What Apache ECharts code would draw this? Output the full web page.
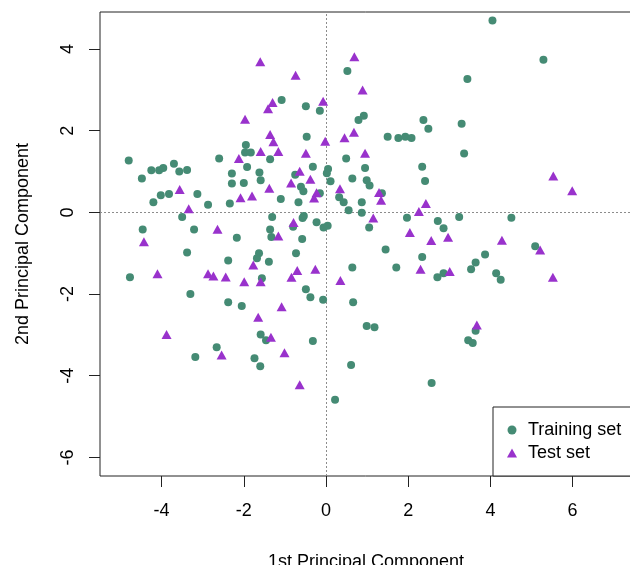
<!DOCTYPE html>
<html>
<head>
<meta charset="utf-8">
<script src="https://cdn.jsdelivr.net/npm/echarts@6/dist/echarts.min.js"></script>
<style>
html,body{margin:0;padding:0;background:#fff;}
#chart{width:630px;height:565px;}
</style>
</head>
<body>
<div id="chart"></div>
<script>
var seriesNames = ['Training set', 'Test set'];
var xTicks = [-4, -2, 0, 2, 4, 6];
var yTicks = [-6, -4, -2, 0, 2, 4];
var axisTitles = ['1st Principal Component', '2nd Principal Component'];

var trainingSet = [
[-4.80,1.27],[-4.48,0.83],[-4.25,1.03],[-4.06,1.03],[-3.96,1.09],[-3.70,1.19],[-3.57,1.00],[-3.38,1.04],
[-4.20,0.25],[-4.02,0.42],[-3.82,0.45],[-3.13,0.45],[-2.87,0.19],[-3.50,-0.11],[-2.60,1.32],[-2.29,0.95],
[-2.29,0.71],[-2.00,0.72],[-1.95,1.65],[-1.97,1.47],[-1.83,1.47],[-1.92,1.11],[-1.62,0.98],[-1.59,0.79],
[-1.36,1.30],[-2.34,0.22],[-1.31,-0.11],[-1.08,2.75],[-0.49,2.60],[-0.15,2.49],[-0.47,1.85],[0.52,3.46],
[0.79,2.26],[0.92,2.37],[-0.32,1.12],[0.05,1.06],[0.02,0.96],[-0.75,0.92],[-0.61,0.63],[-0.55,0.52],
[0.11,0.76],[0.49,1.32],[0.64,0.83],[0.95,1.09],[0.99,0.79],[1.06,0.66],[-0.15,0.47],[0.32,0.37],
[0.43,0.25],[0.55,0.05],[0.87,0.25],[0.87,-0.01],[1.36,0.47],[-1.10,0.33],[-0.67,0.25],[-0.54,-0.09],
[-0.57,-0.14],[-0.23,-0.24],[-0.06,-0.37],[0.04,-0.33],[-0.80,-0.35],[-0.58,-0.65],[-1.36,-0.42],[-1.33,-0.60],
[-2.17,-0.62],[-3.21,-0.42],[-4.46,-0.42],[1.05,-0.37],[1.45,-0.91],[1.50,1.85],[1.76,1.82],[1.93,1.85],
[2.08,1.82],[2.37,2.26],[2.49,2.05],[3.30,2.17],[3.36,1.44],[2.34,1.12],[2.41,0.77],[3.44,3.27],
[4.05,4.70],[5.29,3.74],[1.97,-0.13],[2.72,-0.21],[2.86,-0.39],[3.24,-0.11],[4.51,-0.13],[2.34,-1.09],
[1.71,-1.35],[0.64,-1.35],[2.71,-1.59],[2.86,-1.49],[3.53,-1.39],[3.64,-1.23],[3.87,-1.03],[4.14,-1.49],
[4.25,-1.65],[5.09,-0.83],[0.66,-2.20],[0.99,-2.78],[1.18,-2.81],[3.64,-2.90],[3.46,-3.13],[3.57,-3.20],
[0.61,-3.74],[2.57,-4.18],[0.22,-4.59],[-3.38,-0.98],[-2.38,-1.18],[-1.63,-1.00],[-1.68,-1.12],[-1.39,-1.21],
[-0.73,-1.00],[-4.77,-1.59],[-1.56,-1.61],[-3.30,-2.00],[-2.38,-2.20],[-2.05,-2.29],[-0.49,-1.88],[-0.38,-2.08],
[-0.07,-2.14],[-1.59,-2.99],[-1.46,-3.13],[-0.32,-3.15],[-2.66,-3.30],[-3.18,-3.54],[-1.74,-3.57],[-1.60,-3.77]
];

var testSet = [
[-1.60,3.69],[-0.74,3.36],[0.69,3.81],[0.89,3.00],[-1.30,2.69],[-1.41,2.54],[-0.07,2.72],[-1.97,2.28],
[-1.36,1.91],[-1.28,1.73],[-1.16,1.49],[-1.59,1.49],[-2.12,1.32],[-0.49,1.45],[-0.02,1.74],[0.45,1.83],
[0.68,1.96],[0.95,1.45],[-0.64,1.01],[-0.85,0.72],[-0.38,0.81],[-1.38,0.59],[-2.08,0.36],[-1.80,0.40],
[-3.56,0.56],[-3.34,0.09],[-0.23,0.48],[-0.29,0.35],[0.34,0.58],[1.29,0.49],[1.34,0.30],[2.43,0.22],
[2.26,0.02],[1.15,-0.14],[-0.79,-0.25],[-1.16,-0.58],[-2.64,-0.41],[-4.43,-0.72],[2.04,-0.49],[2.56,-0.69],
[2.97,-0.61],[4.28,-0.68],[5.21,-0.92],[5.53,0.89],[5.99,0.53],[2.30,-1.39],[3.01,-1.45],[5.52,-1.59],
[3.67,-2.76],[-1.77,-1.29],[-4.10,-1.50],[-2.87,-1.50],[-2.74,-1.56],[-2.44,-1.58],[-1.99,-1.70],[-1.59,-1.70],
[-0.84,-1.59],[-0.70,-1.42],[-0.26,-1.39],[0.35,-1.67],[-1.08,-2.31],[-1.65,-2.57],[-3.88,-2.99],[-1.34,-3.06],
[-1.01,-3.44],[-2.54,-3.49],[-0.64,-4.22]
];

var FONT = '"Liberation Sans", Arial, sans-serif';
var GREEN = '#458B74';
var PURPLE = '#9932CC';

var chart = echarts.init(document.getElementById('chart'), null, {renderer: 'canvas'});
chart.setOption({
  animation: false,
  backgroundColor: '#fff',
  textStyle: {fontFamily: FONT},
  grid: {
    left: 100, top: 12, right: -2, bottom: 89,
    containLabel: false,
    outerBoundsMode: 'none',
    show: true, borderColor: '#222', borderWidth: 1, backgroundColor: 'transparent'
  },
  xAxis: {
    type: 'value',
    min: -5.499, max: 7.445,
    name: axisTitles[0],
    nameLocation: 'middle',
    nameGap: 77,
    nameTextStyle: {fontSize: 18, color: '#000', fontFamily: FONT},
    axisLine: {show: false, onZero: false},
    splitLine: {show: false},
    axisTick: {show: true, inside: false, length: 11, lineStyle: {color: '#222'}, customValues: xTicks},
    axisLabel: {show: true, fontSize: 18, color: '#000', margin: 26, fontFamily: FONT, customValues: xTicks}
  },
  yAxis: {
    type: 'value',
    min: -6.456, max: 4.908,
    name: axisTitles[1],
    nameLocation: 'middle',
    nameGap: 68,
    nameTextStyle: {fontSize: 18, color: '#000', fontFamily: FONT},
    axisLine: {show: false, onZero: false},
    splitLine: {show: false},
    axisTick: {show: true, inside: false, length: 11, lineStyle: {color: '#222'}, customValues: yTicks},
    axisLabel: {show: true, fontSize: 18, color: '#000', margin: 23, rotate: 90, fontFamily: FONT, customValues: yTicks}
  },
  legend: {
    show: true,
    orient: 'vertical',
    left: 493, top: 407,
    padding: [14, 20, 14, 14],
    itemWidth: 10, itemHeight: 9,
    itemGap: 5,
    borderColor: '#222', borderWidth: 1,
    backgroundColor: '#fff',
    borderRadius: 0,
    textStyle: {fontSize: 18, color: '#000', fontFamily: FONT, lineHeight: 18, padding: [0, 0, 0, 6]},
    data: [{name: seriesNames[0], icon: 'circle'}, {name: seriesNames[1], icon: 'triangle'}]
  },
  series: [
    {
      name: seriesNames[0],
      type: 'scatter',
      symbol: 'circle',
      symbolSize: 8,
      itemStyle: {color: GREEN, opacity: 1},
      data: trainingSet,
      z: 3,
      markLine: {
        silent: true,
        symbol: 'none',
        label: {show: false},
        lineStyle: {color: '#8c8c8c', type: [2, 2], width: 1},
        z: 1,
        data: [{xAxis: 0}, {yAxis: 0}]
      }
    },
    {
      name: seriesNames[1],
      type: 'scatter',
      symbol: 'triangle',
      symbolSize: [10, 9],
      itemStyle: {color: PURPLE, opacity: 1},
      data: testSet,
      z: 4
    }
  ]
});
</script>
</body>
</html>
